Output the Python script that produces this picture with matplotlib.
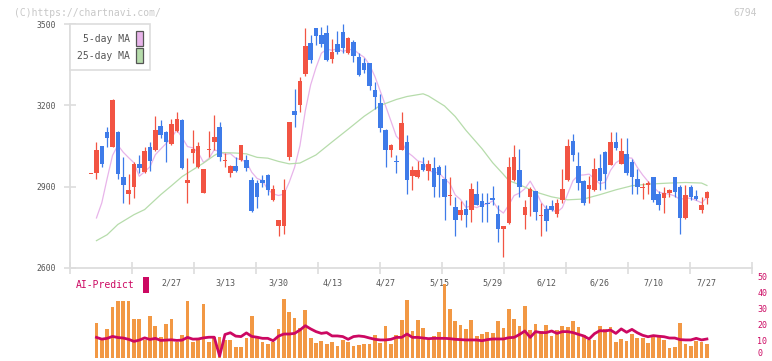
import matplotlib.pyplot as plt
import numpy as np
from matplotlib.patches import Patch, Rectangle
from matplotlib.transforms import blended_transform_factory

# daily candles, index 0 is the lone tick at the left edge
opens = [2947, 2950, 3051, 3102, 3048, 3102, 2937, 2873, 2897, 2984,
         2955, 3047, 3036, 3124, 3102, 3059, 3106, 3147, 2915, 3023,
         2974, 2878, 3035, 3063, 3121, 2995, 2952, 2977, 2998, 2998,
         2925, 2913, 2925, 2942, 2849, 2755, 2756, 3008, 3181, 3200,
         3316, 3430, 3485, 3461, 3467, 3372, 3427, 3470, 3395, 3433,
         3380, 3356, 3356, 3257, 3208, 3110, 3036, 2995, 3036, 3065,
         2940, 2937, 2984, 2959, 2969, 2974, 2929, 2865, 2824, 2796,
         2817, 2814, 2873, 2847, 2841, 2857, 2798, 2744, 2767, 2925,
         2962, 2796, 2863, 2882, 2790, 2818, 2827, 2797, 2851, 2925,
         3070, 2977, 2919, 2892, 2886, 2968, 3026, 2980, 3064, 2984,
         3021, 2989, 2928, 2896, 2904, 2935, 2873, 2856, 2876, 2935,
         2898, 2782, 2898, 2866, 2812, 2856]
highs = [2947, 3064, 3051, 3122, 3222, 3105, 3011, 2947, 2990, 3017,
         3048, 3066, 3161, 3147, 3105, 3150, 3176, 3150, 3005, 3110,
         3066, 2966, 3106, 3165, 3139, 3024, 2980, 3011, 3054, 3017,
         2937, 2925, 2943, 2945, 2904, 2778, 2927, 3140, 3261, 3304,
         3485, 3461, 3488, 3489, 3497, 3446, 3475, 3500, 3454, 3442,
         3393, 3374, 3358, 3288, 3243, 3112, 3056, 3017, 3174, 3090,
         2977, 2993, 3011, 2999, 3011, 2978, 2978, 2937, 2863, 2845,
         2851, 2913, 2921, 2876, 2878, 2903, 2833, 2756, 3011, 3054,
         3040, 2851, 2900, 2884, 2839, 2833, 2849, 2855, 2966, 3077,
         3095, 3026, 2925, 2940, 3007, 3021, 3032, 3101, 3101, 3081,
         3081, 3003, 2965, 2915, 2919, 2937, 2882, 2900, 2891, 2937,
         2904, 2904, 2907, 2886, 2861, 2883]
lows = [2947, 2929, 2974, 3048, 3045, 2927, 2839, 2834, 2856, 2950,
        2950, 2956, 3033, 3079, 2989, 3055, 3100, 2964, 2839, 2987,
        2970, 2878, 3011, 3036, 2993, 2974, 2937, 2954, 2993, 2956,
        2805, 2820, 2900, 2870, 2846, 2718, 2724, 2999, 3120, 3177,
        3307, 3356, 3424, 3415, 3365, 3358, 3390, 3393, 3392, 3359,
        3310, 3319, 3257, 3186, 3103, 2971, 3009, 2952, 3034, 2872,
        2886, 2931, 2956, 2925, 2863, 2863, 2777, 2833, 2718, 2777,
        2750, 2768, 2830, 2768, 2768, 2833, 2694, 2639, 2761, 2922,
        2863, 2744, 2792, 2777, 2718, 2737, 2810, 2787, 2839, 2922,
        2993, 2886, 2830, 2841, 2884, 2888, 2892, 2978, 3036, 2982,
        2943, 2873, 2873, 2855, 2873, 2843, 2814, 2804, 2861, 2861,
        2724, 2780, 2851, 2851, 2804, 2835]
closes = [2947, 3036, 2984, 3080, 3220, 2945, 2904, 2888, 2984, 2969,
          3032, 2993, 3110, 3092, 3066, 3132, 3150, 2967, 2925, 3039,
          3050, 2966, 3039, 3084, 3008, 3000, 2977, 2956, 3054, 2969,
          2808, 2863, 2915, 2888, 2892, 2775, 2888, 3137, 3163, 3291,
          3420, 3368, 3458, 3427, 3368, 3398, 3398, 3411, 3449, 3384,
          3313, 3331, 3273, 3233, 3115, 3036, 3054, 2991, 3135, 2925,
          2962, 2962, 2962, 2984, 2897, 2943, 2860, 2869, 2775, 2814,
          2796, 2892, 2833, 2823, 2837, 2849, 2744, 2755, 2974, 3011,
          2897, 2824, 2892, 2807, 2794, 2771, 2812, 2839, 2892, 3051,
          3015, 2915, 2841, 2907, 2966, 2919, 2947, 3063, 3044, 3032,
          2950, 2934, 2897, 2900, 2915, 2849, 2833, 2876, 2888, 2879,
          2782, 2867, 2863, 2854, 2833, 2881]

# moving averages (from candle 1 on)
ma5 = [2784, 2840, 2930, 3015, 3053, 3027, 3007, 2988, 2938, 2955,
       2973, 3018, 3039, 3059, 3079, 3110, 3081, 3048, 3043, 3026,
       2989, 3004, 3036, 3029, 3019, 3022, 3005, 2999, 2991, 2953,
       2930, 2922, 2889, 2873, 2867, 2872, 2916, 2971, 3051, 3180,
       3276, 3340, 3393, 3408, 3404, 3410, 3400, 3405, 3408, 3391,
       3378, 3350, 3307, 3253, 3198, 3142, 3086, 3066, 3028, 3013,
       2995, 2989, 2959, 2953, 2950, 2929, 2911, 2869, 2852, 2823,
       2829, 2822, 2832, 2836, 2847, 2817, 2802, 2832, 2867, 2876,
       2892, 2920, 2886, 2843, 2818, 2815, 2805, 2822, 2873, 2922,
       2942, 2943, 2946, 2929, 2910, 2916, 2960, 2988, 3001, 3007,
       3005, 2971, 2943, 2919, 2899, 2879, 2875, 2872, 2865, 2852,
       2858, 2856, 2849, 2840, 2860]
ma25_idx = [1, 3, 5, 8, 10, 13, 15, 17, 19, 21, 23, 24, 27, 29, 31, 33,
            35, 37, 39, 42, 45, 48, 51, 54, 57, 59, 62, 63, 66, 68, 70, 73,
            75, 77, 78, 80, 83, 86, 89, 92, 95, 98, 101, 104, 108, 111, 114, 115]
ma25 = [2700, 2722, 2760, 2796, 2815, 2870, 2903, 2937, 2962, 2987, 3015,
        3026, 3024, 3021, 3008, 3005, 2993, 2984, 2987, 3017, 3065, 3112,
        3160, 3200, 3222, 3233, 3243, 3235, 3198, 3159, 3108, 3040, 2988,
        2945, 2922, 2907, 2880, 2862, 2851, 2854, 2870, 2888, 2903, 2909,
        2913, 2915, 2913, 2904]

# lower panel (candle 1 on)
volume = [21.9, 12.1, 17.9, 31.7, 35.6, 35.6, 35.6, 24.2, 24.2, 11.1,
          26.1, 19.8, 12.7, 21.1, 24.2, 10.0, 14.2, 35.4, 10.0, 12.1,
          33.8, 10.0, 13.1, 13.1, 11.1, 11.1, 6.9, 6.9, 12.5, 26.1,
          12.7, 9.8, 8.6, 9.8, 17.9, 36.7, 28.6, 25.0, 18.6, 29.8,
          12.4, 9.2, 10.6, 8.6, 9.8, 7.3, 11.1, 9.8, 7.3, 7.9,
          8.6, 8.6, 14.2, 9.2, 19.8, 8.6, 14.2, 23.6, 36.1, 16.7,
          23.6, 18.6, 11.1, 13.6, 16.1, 45.9, 30.4, 22.9, 20.4, 17.9,
          23.6, 13.6, 14.8, 16.1, 15.4, 22.9, 18.6, 30.4, 24.2, 19.8,
          32.5, 17.3, 21.1, 16.5, 20.4, 13.6, 17.3, 19.8, 19.4, 23.0,
          19.4, 14.0, 11.1, 11.1, 19.8, 17.9, 19.2, 9.8, 11.7, 10.4,
          14.8, 12.4, 12.4, 9.2, 12.7, 12.7, 11.1, 6.1, 6.7, 21.7,
          8.6, 7.3, 10.4, 9.8, 8.6]
ai_predict = [12.7, 11.6, 12.1, 13.3, 12.6, 12.3, 11.5, 10.2, 11.0, 12.4,
              11.4, 12.1, 10.8, 11.0, 11.2, 10.8, 11.0, 12.7, 11.6, 11.7,
              12.4, 12.8, 12.8, 1.0, 14.5, 15.6, 13.5, 13.2, 15.5, 13.3,
              12.8, 12.1, 12.1, 10.6, 13.5, 14.8, 14.8, 15.2, 17.3, 20.0,
              18.0, 16.3, 15.2, 15.7, 13.6, 13.6, 13.2, 11.5, 13.2, 13.6,
              13.2, 12.3, 11.5, 11.1, 11.1, 11.5, 12.7, 12.7, 14.8, 12.7,
              12.7, 12.3, 11.9, 12.1, 12.1, 12.1, 11.9, 11.5, 11.3, 11.1,
              11.1, 11.1, 10.6, 11.3, 11.7, 11.7, 11.7, 12.5, 12.7, 14.5,
              16.7, 12.7, 16.3, 15.7, 15.7, 16.7, 15.2, 16.3, 16.3, 15.7,
              14.6, 13.6, 11.7, 15.0, 16.9, 16.7, 17.3, 15.2, 18.0, 15.9,
              17.7, 15.6, 14.0, 13.1, 13.8, 13.4, 13.1, 12.3, 12.3, 11.3,
              11.1, 11.1, 12.1, 11.1, 11.7]

date_idx = [15, 25, 35, 45, 55, 65, 75, 85, 95, 105, 115]
date_labels = ["2/27", "3/13", "3/30", "4/13", "4/27", "5/15",
               "5/29", "6/12", "6/26", "7/10", "7/27"]
price_ticks = [2600, 2900, 3200, 3500]
ai_ticks = [0, 10, 20, 30, 40, 50]

UP = "#f25443"
DOWN = "#3e7be9"
PINK = "#e8b4ea"
GREEN = "#b6dcab"
ORANGE = "#f29844"
CRIMSON = "#cc0862"
AXIS = "#dddddd"
TEXT = "#555555"
MONO = "DejaVu Sans Mono"

W, H = 772, 361
fig = plt.figure(figsize=(W / 100, H / 100), dpi=100)


def px_axes(left, top, right, bottom):
    return fig.add_axes([left / W, 1 - bottom / H, (right - left) / W, (bottom - top) / H])


ax = px_axes(70, 24.3, 752, 267.7)
ax2 = px_axes(70, 277.7, 752, 357.7)

x0, x1 = -3.94, 123.42

# candles
x = np.arange(len(closes))
o = np.array(opens)
c = np.array(closes)
colors = np.where(c >= o, UP, DOWN)
ax.plot(x[1:], ma5, color=PINK, lw=0.9, zorder=1)
ax.plot(ma25_idx, ma25, color=GREEN, lw=0.9, zorder=1)
ax.vlines(x, lows, highs, colors=colors, lw=0.9, zorder=2)
ax.bar(x, np.maximum(np.abs(c - o), 4), bottom=np.minimum(o, c),
       width=0.85, color=colors, zorder=3)

ax.set_xlim(x0, x1)
ax.set_ylim(2600, 3500)
ax.set_yticks(price_ticks)
ax.set_xticks(np.linspace(x0, x1, 12))
ax.tick_params(axis="y", direction="inout", length=9, width=1.2, color=AXIS,
               labelsize=5.8, labelcolor=TEXT, pad=5.4)
ax.tick_params(axis="x", direction="inout", length=8, width=1.2, color=AXIS,
               labelbottom=False)
for lab in ax.get_yticklabels():
    lab.set_family(MONO)
for side in ["top", "right"]:
    ax.spines[side].set_visible(False)
for side in ["left", "bottom"]:
    ax.spines[side].set_color(AXIS)
    ax.spines[side].set_linewidth(1.3)

handles = [Patch(facecolor=PINK, edgecolor="#555555", lw=0.9, label="5-day MA"),
           Patch(facecolor=GREEN, edgecolor="#555555", lw=0.9, label="25-day MA")]
leg = ax.legend(handles=handles, loc="upper left", bbox_to_anchor=(0, 1),
                borderaxespad=0, markerfirst=False, fancybox=False,
                edgecolor=AXIS, framealpha=1, prop={"family": MONO, "size": 7},
                handlelength=0.69, handleheight=2.0, handletextpad=0.69,
                labelspacing=0.2, borderpad=0.7)
leg.get_frame().set_linewidth(1.2)
for t in leg.get_texts():
    t.set_color(TEXT)

# date labels sit between the two panels
tr = blended_transform_factory(ax.transData, fig.transFigure)
for i, lab in zip(date_idx, date_labels):
    ax.text(i, 1 - 283 / H, lab, transform=tr, ha="center", va="center",
            fontsize=6, color=TEXT, family=MONO)

# AI-Predict panel
vx = np.arange(1, len(closes))
ax2.bar(vx, volume, width=0.7, color=ORANGE, zorder=1)
ax2.plot(vx, ai_predict, color=CRIMSON, lw=2, zorder=2)
ax2.set_xlim(x0, x1)
ax2.set_ylim(0, 50)
ax2.set_xticks([])
ax2.set_yticks([])
ax2.axis("off")

# right-hand scale, the bottom "0" nudged up so it stays inside the image
tr2 = blended_transform_factory(ax2.transAxes, ax2.transData)
for v in ai_ticks:
    ax2.text(1.0075, v, str(v), transform=tr2, ha="left",
             va="bottom" if v == 0 else "center", fontsize=6,
             color=CRIMSON, family=MONO)

fig.text(76 / W, 1 - 285 / H, "AI-Predict", color=CRIMSON, fontsize=7,
         family=MONO, va="center")
fig.patches.append(Rectangle((142.7 / W, 1 - 292.7 / H), 6 / W, 16 / H,
                             transform=fig.transFigure, facecolor=CRIMSON))

fig.text(14 / W, 1 - 12.5 / H, "(C)https://chartnavi.com/", color="#c8c8c8",
         fontsize=7, family=MONO, va="center")
fig.text(757 / W, 1 - 12.5 / H, "6794", color="#c8c8c8", fontsize=7,
         family=MONO, va="center", ha="right")

fig.savefig("out.png", dpi=100)
